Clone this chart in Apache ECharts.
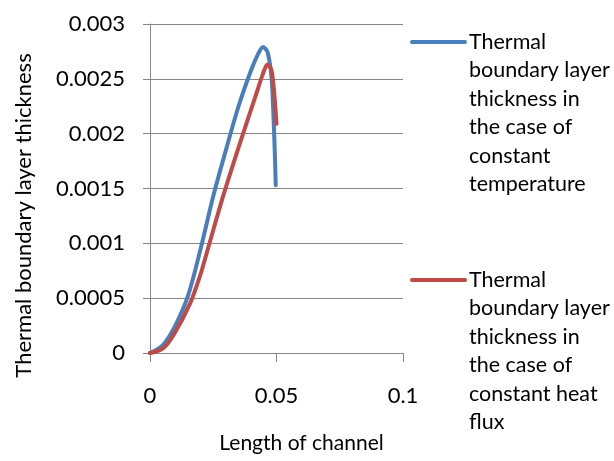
<!DOCTYPE html>
<html>
<head>
<meta charset="utf-8">
<script src="https://cdn.jsdelivr.net/npm/echarts@6/dist/echarts.min.js"></script>
<style>html,body{margin:0;padding:0;background:#fff;}#c{width:614px;height:461px;}</style>
</head>
<body>
<div id="c"></div>
<script>
var seriesNames = [
  'Thermal boundary layer thickness in the case of constant temperature',
  'Thermal boundary layer thickness in the case of constant heat flux'
];
var legendLines = [
  ['Thermal', 'boundary layer', 'thickness in', 'the case of', 'constant', 'temperature'],
  ['Thermal', 'boundary layer', 'thickness in', 'the case of', 'constant heat', 'flux']
];
var tempX = [0, 0.005, 0.01, 0.015, 0.02, 0.025, 0.03, 0.035, 0.04, 0.0428, 0.0447, 0.0465, 0.048, 0.0487, 0.0493, 0.0497];
var tempY = [0, 0.00007, 0.00025, 0.00052, 0.00095, 0.00143, 0.00185, 0.00225, 0.00258, 0.00273, 0.00279, 0.00274, 0.00252, 0.00222, 0.00185, 0.00153];
var fluxX = [0, 0.005, 0.0092, 0.0158, 0.02, 0.0224, 0.0289, 0.0355, 0.0421, 0.0447, 0.0464, 0.048, 0.0491, 0.05];
var fluxY = [0, 0.00004, 0.00016, 0.00045, 0.00072, 0.00091, 0.00143, 0.00191, 0.00237, 0.00255, 0.00263, 0.00258, 0.00237, 0.00209];
var colors = ['#4a7ebb', '#be4b48'];
var xTitle = 'Length of channel';
var yTitle = 'Thermal boundary layer thickness';

function pairs(xs, ys) { return xs.map(function (x, i) { return [x, ys[i]]; }); }

var FONT = 'Lato';
var FS = 22;
var chart = echarts.init(document.getElementById('c'), null, {renderer: 'canvas'});

var graphics = [];
var legendTop = [42, 280];
legendLines.forEach(function (lines, k) {
  graphics.push({
    type: 'line', shape: {x1: 412, y1: legendTop[k], x2: 465, y2: legendTop[k]},
    style: {stroke: colors[k], lineWidth: 4, lineCap: 'round'}
  });
  graphics.push({
    type: 'text', left: 469, top: legendTop[k] - 14.5,
    style: {text: lines.join('\n'), font: '21.5px ' + FONT, fill: '#000', lineHeight: 28.5}
  });
});

chart.setOption({
  animation: false,
  backgroundColor: '#fff',
  grid: {left: 150, right: 211, top: 24, bottom: 108},
  xAxis: {
    type: 'value', min: 0, max: 0.1, interval: 0.05,
    name: xTitle, nameLocation: 'middle', nameGap: 80,
    nameTextStyle: {fontFamily: FONT, fontSize: 21, color: '#000', padding: [0, 0, 0, 50]},
    axisLine: {show: true, lineStyle: {color: '#868686', width: 1}},
    axisTick: {show: true, length: 9, lineStyle: {color: '#868686'}},
    axisLabel: {fontFamily: FONT, fontSize: FS, color: '#000', margin: 32,
      formatter: function (v) { return String(+v.toFixed(4)); }},
    splitLine: {show: false}
  },
  yAxis: {
    type: 'value', min: 0, max: 0.003, interval: 0.0005,
    name: yTitle, nameLocation: 'middle', nameGap: 115,
    nameTextStyle: {fontFamily: FONT, fontSize: FS, color: '#000', padding: [0, 54, 0, 0]},
    axisLine: {show: true, lineStyle: {color: '#868686', width: 1}},
    axisTick: {show: true, length: 7, lineStyle: {color: '#868686'}},
    axisLabel: {fontFamily: FONT, fontSize: FS, color: '#000', margin: 25,
      formatter: function (v) { return String(+v.toFixed(4)); }},
    splitLine: {show: true, lineStyle: {color: '#868686', width: 1}}
  },
  series: [
    {name: seriesNames[0], type: 'line', data: pairs(tempX, tempY), smooth: 0.3,
      showSymbol: false, lineStyle: {color: colors[0], width: 4, cap: 'round'}, itemStyle: {color: colors[0]}},
    {name: seriesNames[1], type: 'line', data: pairs(fluxX, fluxY), smooth: 0.3,
      showSymbol: false, lineStyle: {color: colors[1], width: 4, cap: 'round'}, itemStyle: {color: colors[1]}}
  ],
  graphic: graphics
});
</script>
</body>
</html>
